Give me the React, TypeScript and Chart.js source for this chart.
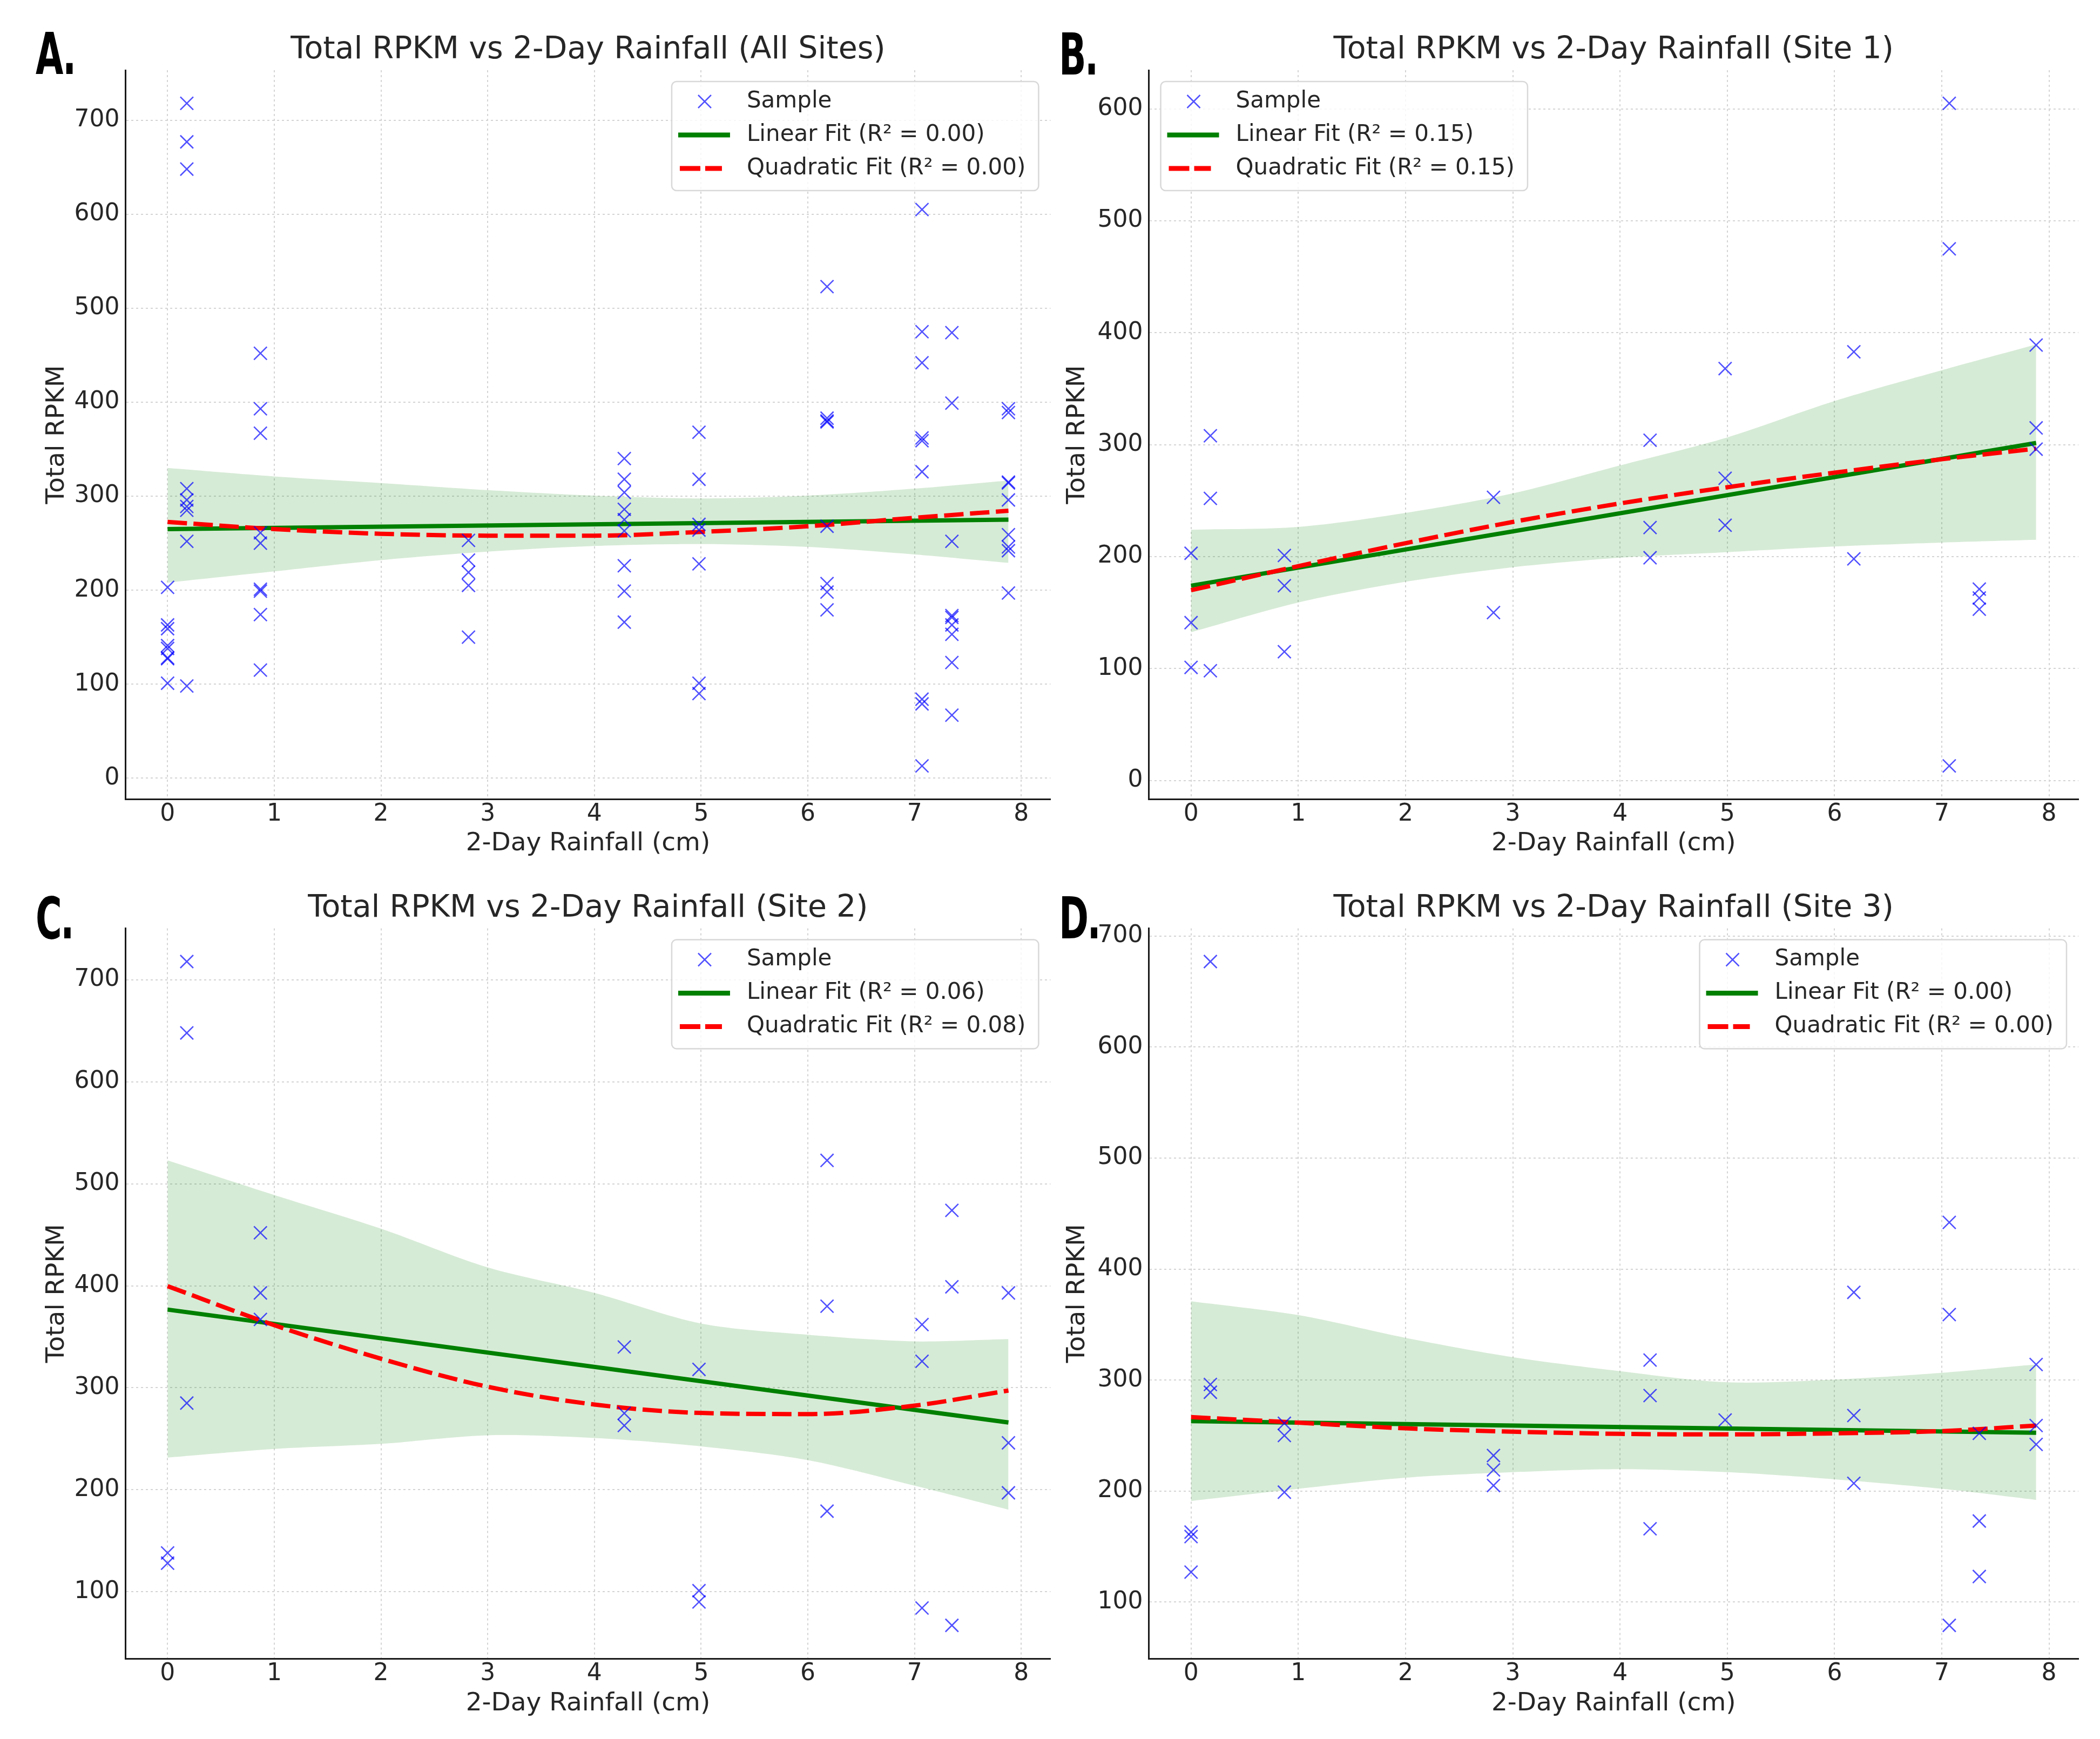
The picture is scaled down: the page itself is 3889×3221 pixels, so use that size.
import React, { useEffect, useRef } from "react";
import { Chart, registerables } from "chart.js";

Chart.register(...registerables);

// ---------------- DATA ----------------
const xTicks = [0, 1, 2, 3, 4, 5, 6, 7, 8];
const yTicksAll = [0, 100, 200, 300, 400, 500, 600, 700];
const yTicksSite1 = [0, 100, 200, 300, 400, 500, 600];
const yTicksSite2 = [100, 200, 300, 400, 500, 600, 700];
const yTicksSite3 = [100, 200, 300, 400, 500, 600, 700];

// Site 1 samples
const site1Rain = [0, 0, 0, 0.18, 0.18, 0.18, 0.87, 0.87, 0.87, 2.82, 2.82, 4.28, 4.28, 4.28, 4.98, 4.98, 4.98, 6.18, 6.18, 7.07, 7.07, 7.07, 7.35, 7.35, 7.35, 7.88, 7.88, 7.88];
const site1Rpkm = [203, 141, 101, 308, 252, 98, 201, 174, 115, 253, 150, 304, 226, 199, 368, 270, 228, 383, 198, 605, 475, 13, 171, 163, 153, 389, 315, 296];

// Site 2 samples
const site2Rain = [0, 0, 0.18, 0.18, 0.18, 0.87, 0.87, 0.87, 4.28, 4.28, 4.28, 4.98, 4.98, 4.98, 6.18, 6.18, 6.18, 7.07, 7.07, 7.07, 7.35, 7.35, 7.35, 7.88, 7.88, 7.88];
const site2Rpkm = [138, 128, 718, 648, 285, 452, 393, 367, 340, 275, 263, 318, 101, 90, 523, 380, 179, 362, 326, 84, 474, 399, 67, 393, 246, 197];

// Site 3 samples
const site3Rain = [0, 0, 0, 0.18, 0.18, 0.18, 0.87, 0.87, 0.87, 2.82, 2.82, 2.82, 4.28, 4.28, 4.28, 4.98, 6.18, 6.18, 6.18, 7.07, 7.07, 7.07, 7.35, 7.35, 7.35, 7.88, 7.88, 7.88];
const site3Rpkm = [163, 159, 127, 677, 296, 289, 261, 250, 199, 232, 219, 205, 318, 286, 166, 264, 379, 268, 207, 442, 359, 79, 252, 173, 123, 314, 259, 242];

// Fitted curves
const linX = [0, 7.88];
const fitX = [0, 1, 2, 3, 4, 5, 6, 7, 7.88];

const allLinear = [265, 275];
const allQuad = [272.6, 265, 260, 258, 258, 262, 268, 277, 284.5];
const allBandHi = [330, 321, 314, 306.5, 300.6, 297.6, 300.6, 308, 316.7];
const allBandLo = [208, 220, 232, 241, 247, 249, 246, 238, 229];

const site1Linear = [174, 301.5];
const site1Quad = [170, 191.5, 212, 231, 247.5, 262, 275, 287, 296.5];
const site1BandHi = [224, 226.5, 239, 256.5, 281.5, 306.5, 339, 366.5, 389.5];
const site1BandLo = [132.5, 159, 177.5, 190.5, 199, 204, 209, 212.5, 215];

const site2Linear = [376.7, 266];
const site2Quad = [399.7, 361.4, 328.5, 301, 283.6, 275.3, 274.2, 282.5, 297.3];
const site2BandHi = [523, 489, 456, 418, 393, 363, 352, 345.5, 347.7];
const site2BandLo = [231.5, 240, 245, 253.4, 250.7, 242.5, 229, 204, 180.5];

const site3Linear = [263, 252.5];
const site3Quad = [266.6, 261.6, 256.5, 253.5, 251.5, 251, 252, 254, 259];
const site3BandHi = [371, 358.5, 338, 320.6, 308, 298, 300.4, 306.5, 314];
const site3BandLo = [191, 202, 212, 217, 219.7, 217, 210.6, 202, 192];

const titles = [
  "Total RPKM vs 2-Day Rainfall (All Sites)",
  "Total RPKM vs 2-Day Rainfall (Site 1)",
  "Total RPKM vs 2-Day Rainfall (Site 2)",
  "Total RPKM vs 2-Day Rainfall (Site 3)",
];
const panelLetters = ["A.", "B.", "C.", "D."];
const linearR2 = ["0.00", "0.15", "0.06", "0.00"];
const quadR2 = ["0.00", "0.15", "0.08", "0.00"];
const xAxisLabel = "2-Day Rainfall (cm)";
const yAxisLabel = "Total RPKM";
const sampleLabel = "Sample";

// ---------------- STYLE ----------------
const FONT = "'DejaVu Sans', 'Noto Sans', sans-serif";
const TEXT = "#262626";
const BLUE = "rgba(0,0,255,0.68)";
const GREEN = "#008000";
const RED = "#ff0000";
const BAND = "rgba(0,128,0,0.16)";
const GRID = "#d4d4d4";

const toPts = (xs: number[], ys: number[]) => xs.map((x, i) => ({ x, y: ys[i] }));

const insetLegend = {
  id: "insetLegend",
  afterDraw(chart: any, _args: any, opts: any) {
    const { ctx, chartArea } = chart;
    const labels: string[] = opts.labels;
    ctx.save();
    ctx.font = `42px ${FONT}`;
    const textW = Math.max(...labels.map((l) => ctx.measureText(l).width));
    const w = 139 + textW + 24;
    const h = 202;
    const left = opts.side === "right" ? chartArea.right - 22 - w : chartArea.left + 22;
    const top = chartArea.top + 21;
    ctx.beginPath();
    if (ctx.roundRect) ctx.roundRect(left, top, w, h, 9);
    else ctx.rect(left, top, w, h);
    ctx.fillStyle = "rgba(255,255,255,0.8)";
    ctx.fill();
    ctx.lineWidth = 2.5;
    ctx.strokeStyle = "#d8d8d8";
    ctx.stroke();
    const rows = [top + 37, top + 99, top + 161];
    // marker
    const mx = left + 61;
    ctx.strokeStyle = BLUE;
    ctx.lineWidth = 2.5;
    ctx.beginPath();
    ctx.moveTo(mx - 12, rows[0] - 12);
    ctx.lineTo(mx + 12, rows[0] + 12);
    ctx.moveTo(mx + 12, rows[0] - 12);
    ctx.lineTo(mx - 12, rows[0] + 12);
    ctx.stroke();
    // linear
    ctx.strokeStyle = GREEN;
    ctx.lineWidth = 9;
    ctx.beginPath();
    ctx.moveTo(left + 12, rows[1]);
    ctx.lineTo(left + 108, rows[1]);
    ctx.stroke();
    // quadratic
    ctx.strokeStyle = RED;
    ctx.setLineDash([38, 9]);
    ctx.beginPath();
    ctx.moveTo(left + 15, rows[2]);
    ctx.lineTo(left + 93, rows[2]);
    ctx.stroke();
    ctx.setLineDash([]);
    ctx.fillStyle = TEXT;
    ctx.textBaseline = "middle";
    ctx.textAlign = "left";
    labels.forEach((l, i) => ctx.fillText(l, left + 139, rows[i]));
    ctx.restore();
  },
};

type PanelCfg = {
  idx: number;
  x: number;
  y: number;
  w: number;
  h: number;
  rain: number[];
  rpkm: number[];
  lin: number[];
  quad: number[];
  hi: number[];
  lo: number[];
  yTicks: number[];
  yAxisW: number;
  xAxisH: number;
  padRight: number;
  titleTop: number;
  titleBottom: number;
  yTitlePad: number;
  xTitlePad: number;
  legendSide: string;
};

function Panel({ cfg }: { cfg: PanelCfg }) {
  const ref = useRef<HTMLCanvasElement>(null);
  useEffect(() => {
    const ymin0 = Math.min(...cfg.rpkm);
    const ymax0 = Math.max(...cfg.rpkm);
    const ym = (ymax0 - ymin0) * 0.05;
    const xmin0 = Math.min(...cfg.rain);
    const xmax0 = Math.max(...cfg.rain);
    const xm = (xmax0 - xmin0) * 0.05;
    const chart = new Chart(ref.current as HTMLCanvasElement, {
      type: "line",
      data: {
        datasets: [
          {
            label: sampleLabel,
            data: toPts(cfg.rain, cfg.rpkm),
            showLine: false,
            pointStyle: "crossRot",
            pointRadius: 17,
            pointBorderWidth: 2.6,
            pointBorderColor: BLUE,
            pointBackgroundColor: BLUE,
            order: 0,
          } as any,
          {
            label: `Quadratic Fit (R² = ${quadR2[cfg.idx]})`,
            data: toPts(fitX, cfg.quad),
            borderColor: RED,
            borderWidth: 8,
            borderDash: [36, 12],
            pointRadius: 0,
            cubicInterpolationMode: "monotone",
            fill: false,
            order: 1,
          },
          {
            label: `Linear Fit (R² = ${linearR2[cfg.idx]})`,
            data: toPts(linX, cfg.lin),
            borderColor: GREEN,
            borderWidth: 8,
            pointRadius: 0,
            fill: false,
            order: 2,
          },
          {
            label: "band-hi",
            data: toPts(fitX, cfg.hi),
            borderColor: "transparent",
            borderWidth: 0,
            pointRadius: 0,
            tension: 0.3,
            fill: false,
            order: 3,
          },
          {
            label: "band-lo",
            data: toPts(fitX, cfg.lo),
            borderColor: "transparent",
            borderWidth: 0,
            pointRadius: 0,
            tension: 0.3,
            fill: "-1",
            backgroundColor: BAND,
            order: 3,
          },
        ],
      },
      options: {
        responsive: false,
        animation: false,
        devicePixelRatio: 1,
        events: [],
        layout: { padding: { left: 0, top: 0, right: cfg.padRight, bottom: 0 } },
        plugins: {
          legend: { display: false },
          tooltip: { enabled: false },
          title: {
            display: true,
            text: titles[cfg.idx],
            fullSize: false,
            color: TEXT,
            font: { family: FONT, size: 57, weight: "normal", lineHeight: 1 },
            padding: { top: cfg.titleTop, bottom: cfg.titleBottom },
          },
          insetLegend: {
            side: cfg.legendSide,
            labels: [sampleLabel, `Linear Fit (R² = ${linearR2[cfg.idx]})`, `Quadratic Fit (R² = ${quadR2[cfg.idx]})`],
          },
        } as any,
        scales: {
          x: {
            type: "linear",
            min: xmin0 - xm,
            max: xmax0 + xm,
            afterBuildTicks: (s: any) => {
              s.ticks = xTicks.map((v) => ({ value: v }));
            },
            afterFit: (s: any) => {
              s.height = cfg.xAxisH;
            },
            ticks: {
              color: TEXT,
              font: { family: FONT, size: 44, lineHeight: 1 },
              padding: 7,
              maxRotation: 0,
              autoSkip: false,
            },
            grid: { color: GRID, lineWidth: 2, drawTicks: false },
            border: { display: true, color: "#1a1a1a", width: 3, dash: [4, 5] },
            title: {
              display: true,
              text: xAxisLabel,
              color: TEXT,
              font: { family: FONT, size: 47, lineHeight: 1 },
              padding: { top: cfg.xTitlePad, bottom: cfg.xTitlePad },
            },
          },
          y: {
            type: "linear",
            min: ymin0 - ym,
            max: ymax0 + ym,
            afterBuildTicks: (s: any) => {
              s.ticks = cfg.yTicks.map((v) => ({ value: v }));
            },
            afterFit: (s: any) => {
              s.width = cfg.yAxisW;
            },
            ticks: {
              color: TEXT,
              font: { family: FONT, size: 44, lineHeight: 1 },
              padding: 11,
              autoSkip: false,
            },
            grid: { color: GRID, lineWidth: 2, drawTicks: false },
            border: { display: true, color: "#1a1a1a", width: 3, dash: [4, 5] },
            title: {
              display: true,
              text: yAxisLabel,
              color: TEXT,
              font: { family: FONT, size: 47, lineHeight: 1 },
              padding: { top: cfg.yTitlePad, bottom: cfg.yTitlePad },
            },
          },
        },
      },
      plugins: [insetLegend as any],
    });
    return () => chart.destroy();
  }, []);
  return (
    <canvas
      ref={ref}
      width={cfg.w}
      height={cfg.h}
      style={{ position: "absolute", left: cfg.x, top: cfg.y, width: cfg.w, height: cfg.h }}
    />
  );
}

const allRain = [...site1Rain, ...site2Rain, ...site3Rain];
const allRpkm = [...site1Rpkm, ...site2Rpkm, ...site3Rpkm];

const panels: PanelCfg[] = [
  {
    idx: 0, x: 0, y: 0, w: 1965, h: 1610,
    rain: allRain, rpkm: allRpkm, lin: allLinear, quad: allQuad, hi: allBandHi, lo: allBandLo,
    yTicks: yTicksAll, yAxisW: 232.5, xAxisH: 130, padRight: 13,
    titleTop: 64.5, titleBottom: 8.5, yTitlePad: 82.5, xTitlePad: 23.5, legendSide: "right",
  },
  {
    idx: 1, x: 1965, y: 0, w: 1924, h: 1610,
    rain: site1Rain, rpkm: site1Rpkm, lin: site1Linear, quad: site1Quad, hi: site1BandHi, lo: site1BandLo,
    yTicks: yTicksSite1, yAxisW: 162.5, xAxisH: 130, padRight: 40,
    titleTop: 64.5, titleBottom: 8.5, yTitlePad: 7.5, xTitlePad: 23.5, legendSide: "left",
  },
  {
    idx: 2, x: 0, y: 1610, w: 1965, h: 1611,
    rain: site2Rain, rpkm: site2Rpkm, lin: site2Linear, quad: site2Quad, hi: site2BandHi, lo: site2BandLo,
    yTicks: yTicksSite2, yAxisW: 232.5, xAxisH: 149, padRight: 13,
    titleTop: 44.5, titleBottom: 8, yTitlePad: 82.5, xTitlePad: 41.5, legendSide: "right",
  },
  {
    idx: 3, x: 1965, y: 1610, w: 1924, h: 1611,
    rain: site3Rain, rpkm: site3Rpkm, lin: site3Linear, quad: site3Quad, hi: site3BandHi, lo: site3BandLo,
    yTicks: yTicksSite3, yAxisW: 162.5, xAxisH: 149, padRight: 40,
    titleTop: 44.5, titleBottom: 8, yTitlePad: 7.5, xTitlePad: 41.5, legendSide: "right",
  },
];

const letterPos = [
  { left: 66, top: 47 },
  { left: 1961, top: 48 },
  { left: 66, top: 1648 },
  { left: 1961, top: 1648 },
];

export default function App() {
  return (
    <div style={{ position: "absolute", left: 0, top: 0, width: 3889, height: 3221, background: "#ffffff", overflow: "hidden" }}>
      {panels.map((p) => (
        <Panel key={p.idx} cfg={p} />
      ))}
      {panelLetters.map((t, i) => (
        <div
          key={t}
          style={{
            position: "absolute",
            left: letterPos[i].left,
            top: letterPos[i].top,
            fontFamily: FONT,
            fontWeight: 900,
            fontSize: 107,
            lineHeight: 1,
            color: "#000",
            transform: "scaleX(0.62)",
            transformOrigin: "left top",
            whiteSpace: "nowrap",
            letterSpacing: -4,
          }}
        >
          {t}
        </div>
      ))}
    </div>
  );
}
